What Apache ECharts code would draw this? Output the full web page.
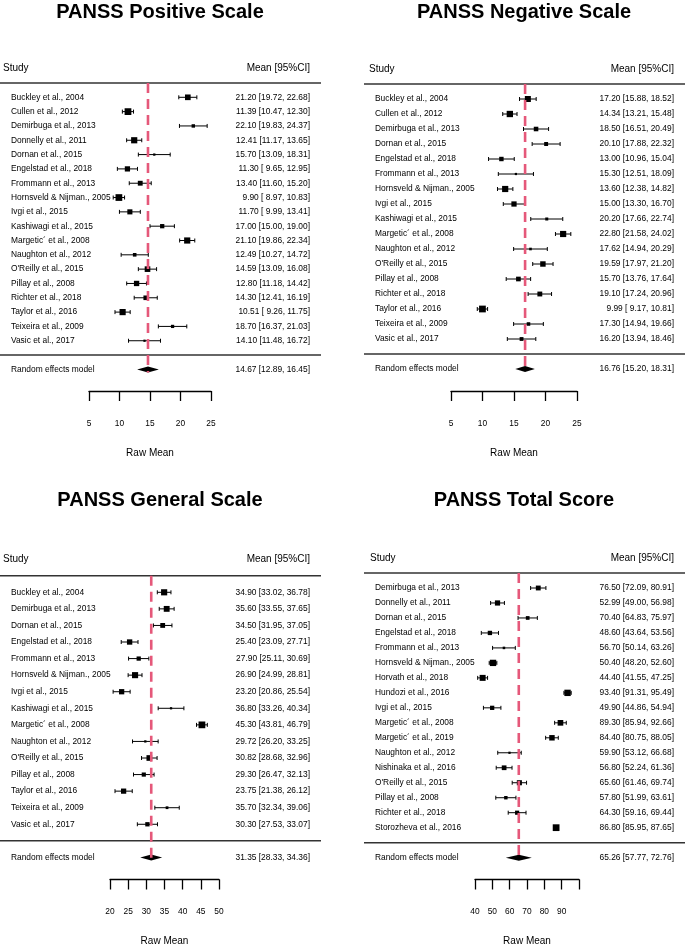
<!DOCTYPE html>
<html lang="en">
<head>
<meta charset="UTF-8">
<title>PANSS forest plots</title>
<script src="https://cdn.jsdelivr.net/npm/echarts@6/dist/echarts.min.js"></script>
<style>html,body{margin:0;padding:0;background:#fff;}</style>
</head>
<body>
<div id="main" style="width:685px;height:949px;"></div>
<script type="text/javascript">
// PANSS Positive Scale
var posStudies = ['Buckley et al., 2004', 'Cullen et al., 2012', 'Demirbuga et al., 2013', 'Donnelly et al., 2011', 'Dornan et al., 2015', 'Engelstad et al., 2018', 'Frommann et al., 2013', 'Hornsveld & Nijman., 2005', 'Ivgi et al., 2015', 'Kashiwagi et al., 2015', 'Margetic\u00b4 et al., 2008', 'Naughton et al., 2012', "O'Reilly et al., 2015", 'Pillay et al., 2008', 'Richter et al., 2018', 'Taylor et al., 2016', 'Teixeira et al., 2009', 'Vasic et al., 2017'];
var posMean  = [21.20, 11.39, 22.10, 12.41, 15.70, 11.30, 13.40, 9.90, 11.70, 17.00, 21.10, 12.49, 14.59, 12.80, 14.30, 10.51, 18.70, 14.10];
var posLower = [19.72, 10.47, 19.83, 11.17, 13.09, 9.65, 11.60, 8.97, 9.99, 15.00, 19.86, 10.27, 13.09, 11.18, 12.41, 9.26, 16.37, 11.48];
var posUpper = [22.68, 12.30, 24.37, 13.65, 18.31, 12.95, 15.20, 10.83, 13.41, 19.00, 22.34, 14.72, 16.08, 14.42, 16.19, 11.75, 21.03, 16.72];
var posPooled = [14.67, 12.89, 16.45];
var posTicks = ['5', '10', '15', '20', '25'];

// PANSS Negative Scale
var negStudies = ['Buckley et al., 2004', 'Cullen et al., 2012', 'Demirbuga et al., 2013', 'Dornan et al., 2015', 'Engelstad et al., 2018', 'Frommann et al., 2013', 'Hornsveld & Nijman., 2005', 'Ivgi et al., 2015', 'Kashiwagi et al., 2015', 'Margetic\u00b4 et al., 2008', 'Naughton et al., 2012', "O'Reilly et al., 2015", 'Pillay et al., 2008', 'Richter et al., 2018', 'Taylor et al., 2016', 'Teixeira et al., 2009', 'Vasic et al., 2017'];
var negMean  = [17.20, 14.34, 18.50, 20.10, 13.00, 15.30, 13.60, 15.00, 20.20, 22.80, 17.62, 19.59, 15.70, 19.10, 9.99, 17.30, 16.20];
var negLower = [15.88, 13.21, 16.51, 17.88, 10.96, 12.51, 12.38, 13.30, 17.66, 21.58, 14.94, 17.97, 13.76, 17.24, 9.17, 14.94, 13.94];
var negUpper = [18.52, 15.48, 20.49, 22.32, 15.04, 18.09, 14.82, 16.70, 22.74, 24.02, 20.29, 21.20, 17.64, 20.96, 10.81, 19.66, 18.46];
var negPooled = [16.76, 15.20, 18.31];
var negTicks = ['5', '10', '15', '20', '25'];

// PANSS General Scale
var genStudies = ['Buckley et al., 2004', 'Demirbuga et al., 2013', 'Dornan et al., 2015', 'Engelstad et al., 2018', 'Frommann et al., 2013', 'Hornsveld & Nijman., 2005', 'Ivgi et al., 2015', 'Kashiwagi et al., 2015', 'Margetic\u00b4 et al., 2008', 'Naughton et al., 2012', "O'Reilly et al., 2015", 'Pillay et al., 2008', 'Taylor et al., 2016', 'Teixeira et al., 2009', 'Vasic et al., 2017'];
var genMean  = [34.90, 35.60, 34.50, 25.40, 27.90, 26.90, 23.20, 36.80, 45.30, 29.72, 30.82, 29.30, 23.75, 35.70, 30.30];
var genLower = [33.02, 33.55, 31.95, 23.09, 25.11, 24.99, 20.86, 33.26, 43.81, 26.20, 28.68, 26.47, 21.38, 32.34, 27.53];
var genUpper = [36.78, 37.65, 37.05, 27.71, 30.69, 28.81, 25.54, 40.34, 46.79, 33.25, 32.96, 32.13, 26.12, 39.06, 33.07];
var genPooled = [31.35, 28.33, 34.36];
var genTicks = ['20', '25', '30', '35', '40', '45', '50'];

// PANSS Total Score
var totStudies = ['Demirbuga et al., 2013', 'Donnelly et al., 2011', 'Dornan et al., 2015', 'Engelstad et al., 2018', 'Frommann et al., 2013', 'Hornsveld & Nijman., 2005', 'Horvath et al., 2018', 'Hundozi et al., 2016', 'Ivgi et al., 2015', 'Margetic\u00b4 et al., 2008', 'Margetic\u00b4 et al., 2019', 'Naughton et al., 2012', 'Nishinaka et al., 2016', "O'Reilly et al., 2015", 'Pillay et al., 2008', 'Richter et al., 2018', 'Storozheva et al., 2016'];
var totMean  = [76.50, 52.99, 70.40, 48.60, 56.70, 50.40, 44.40, 93.40, 49.90, 89.30, 84.40, 59.90, 56.80, 65.60, 57.80, 64.30, 86.80];
var totLower = [72.09, 49.00, 64.83, 43.64, 50.14, 48.20, 41.55, 91.31, 44.86, 85.94, 80.75, 53.12, 52.24, 61.46, 51.99, 59.16, 85.95];
var totUpper = [80.91, 56.98, 75.97, 53.56, 63.26, 52.60, 47.25, 95.49, 54.94, 92.66, 88.05, 66.68, 61.36, 69.74, 63.61, 69.44, 87.65];
var totPooled = [65.26, 57.77, 72.76];
var totTicks = ['40', '50', '60', '70', '80', '90', ''];
var totMax = 100;

var FONT = "'Liberation Sans', Arial, Helvetica, sans-serif";

// layout of the four panels (pixels)
var panels = [
    { title: 'PANSS Positive Scale', studies: posStudies, mean: posMean, lo: posLower, hi: posUpper, pooled: posPooled,
      ticks: posTicks, min: 5, max: 25, step: 5, cx: 160, titleTop: 2,
      gridLeft: 89, gridRight: 211, row0: 97.3, rowH: 14.32, axisY: 391,
      studyX: 3, nameX: 11, valueX: 310, lineX0: 0, lineX1: 321 },
    { title: 'PANSS Negative Scale', studies: negStudies, mean: negMean, lo: negLower, hi: negUpper, pooled: negPooled,
      ticks: negTicks, min: 5, max: 25, step: 5, cx: 524, titleTop: 2,
      gridLeft: 451, gridRight: 577, row0: 99, rowH: 15, axisY: 391,
      studyX: 369, nameX: 375, valueX: 674, lineX0: 364, lineX1: 685 },
    { title: 'PANSS General Scale', studies: genStudies, mean: genMean, lo: genLower, hi: genUpper, pooled: genPooled,
      ticks: genTicks, min: 20, max: 50, step: 5, cx: 160, titleTop: 490.5,
      gridLeft: 110, gridRight: 219, row0: 592.3, rowH: 16.57, axisY: 879.5,
      studyX: 3, nameX: 11, valueX: 310, lineX0: 0, lineX1: 321 },
    { title: 'PANSS Total Score', studies: totStudies, mean: totMean, lo: totLower, hi: totUpper, pooled: totPooled,
      ticks: totTicks, min: 40, max: totMax, step: 10, cx: 524, titleTop: 490.5,
      gridLeft: 475, gridRight: 579, row0: 588, rowH: 14.98, axisY: 879.5,
      studyX: 370, nameX: 375, valueX: 674, lineX0: 364, lineX1: 685 }
];

function pad(v) {
    var s = v.toFixed(2);
    return v < 10 ? ' ' + s : s;
}
function ciText(m, l, h) {
    return m.toFixed(2) + ' [' + pad(l) + ', ' + pad(h) + ']';
}

// square sizes from random-effects weights (DerSimonian-Laird), scaled 0.5..1.5 like metafor
function boxSizes(mean, lo, hi) {
    var v = lo.map(function (l, i) { var se = (hi[i] - l) / 3.92; return se * se; });
    var w = v.map(function (x) { return 1 / x; });
    var sw = 0, sw2 = 0, swy = 0;
    w.forEach(function (x, i) { sw += x; sw2 += x * x; swy += x * mean[i]; });
    var yfe = swy / sw, q = 0;
    w.forEach(function (x, i) { q += x * (mean[i] - yfe) * (mean[i] - yfe); });
    var tau2 = Math.max(0, (q - (mean.length - 1)) / (sw - sw2 / sw));
    var re = v.map(function (x) { return 1 / (x + tau2); });
    var mn = Math.min.apply(null, re), mx = Math.max.apply(null, re);
    return re.map(function (x) { return ((x - mn) / (mx - mn) + 0.5) * 4.5; });
}

var textStyle = function (x, y, text, align, size) {
    return { type: 'text', style: { x: x, y: y, text: text, align: align, verticalAlign: 'middle',
        fill: '#000', font: (size || 8.4) + 'px ' + FONT } };
};

var grids = [], xAxes = [], yAxes = [], series = [], titles = [];

panels.forEach(function (p, k) {
    var n = p.studies.length;
    var top = p.row0 - 2.5 * p.rowH;
    var bottom = p.row0 + (n + 1.5) * p.rowH;
    grids.push({ left: p.gridLeft, width: p.gridRight - p.gridLeft, top: top, height: bottom - top });
    titles.push({ text: p.title, left: p.cx, top: p.titleTop, textAlign: 'center', padding: 0,
        textStyle: { fontSize: 20, fontWeight: 'bold', color: '#000', fontFamily: FONT } });
    xAxes.push({
        type: 'value', gridIndex: k, min: p.min, max: p.max, interval: p.step,
        position: 'bottom', offset: p.axisY - bottom,
        name: 'Raw Mean', nameLocation: 'middle', nameGap: 57,
        nameTextStyle: { fontSize: 10, color: '#000', fontFamily: FONT },
        axisLine: { show: true, onZero: false, lineStyle: { color: '#000', width: 1.3 } },
        axisTick: { show: true, length: 10, lineStyle: { color: '#000', width: 1.3 } },
        axisLabel: { margin: 28.5, fontSize: 8.4, color: '#000', fontFamily: FONT,
            formatter: function (val) { var i = Math.round((val - p.min) / p.step); return p.ticks[i] || ''; } },
        splitLine: { show: false }
    });
    yAxes.push({ type: 'value', gridIndex: k, inverse: true, min: -2.5, max: n + 1.5, show: false });

    var sizes = boxSizes(p.mean, p.lo, p.hi);
    var rows = p.studies.map(function (s, i) { return [p.mean[i], i, p.lo[i], p.hi[i], sizes[i]]; });

    // study rows
    series.push({
        type: 'custom', xAxisIndex: k, yAxisIndex: k, z: 2, silent: true,
        encode: { x: [0, 2, 3], y: 1 },
        data: rows,
        renderItem: function (params, api) {
            var i = params.dataIndex;
            var y = api.coord([p.min, api.value(1)])[1];
            var xm = api.coord([api.value(0), 0])[0];
            var xl = api.coord([api.value(2), 0])[0];
            var xh = api.coord([api.value(3), 0])[0];
            var s = api.value(4);
            var ls = { stroke: '#000', lineWidth: 1 };
            return { type: 'group', children: [
                { type: 'line', shape: { x1: xl, y1: y, x2: xh, y2: y }, style: ls },
                { type: 'line', shape: { x1: xl, y1: y - 2, x2: xl, y2: y + 2 }, style: ls },
                { type: 'line', shape: { x1: xh, y1: y - 2, x2: xh, y2: y + 2 }, style: ls },
                { type: 'rect', shape: { x: xm - s / 2, y: y - s / 2, width: s, height: s }, style: { fill: '#000' } },
                textStyle(p.nameX, y, p.studies[i], 'left'),
                textStyle(p.valueX, y, ciText(p.mean[i], p.lo[i], p.hi[i]), 'right')
            ] };
        }
    });

    // pooled estimate, header and separators
    series.push({
        type: 'custom', xAxisIndex: k, yAxisIndex: k, z: 2, silent: true,
        encode: { x: [0, 2, 3], y: 1 },
        data: [[p.pooled[0], n + 1, p.pooled[1], p.pooled[2]]],
        renderItem: function (params, api) {
            var y = api.coord([p.min, api.value(1)])[1];
            var yHead = api.coord([p.min, -1])[1];
            var yStudy = api.coord([p.min, -2])[1];
            var ySep = api.coord([p.min, n])[1];
            var xm = api.coord([api.value(0), 0])[0];
            var xl = api.coord([api.value(2), 0])[0];
            var xh = api.coord([api.value(3), 0])[0];
            var hs = { stroke: '#333', lineWidth: 1.5 };
            return { type: 'group', children: [
                { type: 'polygon', shape: { points: [[xl, y], [xm, y - 3], [xh, y], [xm, y + 3]] }, style: { fill: '#000' } },
                textStyle(p.nameX, y, 'Random effects model', 'left'),
                textStyle(p.valueX, y, ciText(p.pooled[0], p.pooled[1], p.pooled[2]), 'right'),
                textStyle(p.studyX, yStudy, 'Study', 'left', 10),
                textStyle(p.valueX, yStudy, 'Mean [95%CI]', 'right', 10),
                { type: 'line', shape: { x1: p.lineX0, y1: yHead, x2: p.lineX1, y2: yHead }, style: hs },
                { type: 'line', shape: { x1: p.lineX0, y1: ySep, x2: p.lineX1, y2: ySep }, style: hs }
            ] };
        }
    });

    // dashed reference line at the pooled mean
    series.push({
        type: 'custom', xAxisIndex: k, yAxisIndex: k, z: 5, silent: true,
        encode: { x: 0, y: 1 },
        data: [[p.pooled[0], -1]],
        renderItem: function (params, api) {
            var a = api.coord([api.value(0), -1]);
            var b = api.coord([api.value(0), n + 1]);
            return { type: 'line', shape: { x1: a[0], y1: a[1], x2: b[0], y2: b[1] + 3 },
                style: { stroke: '#E5587A', lineWidth: 2.6, lineDash: [10, 6] } };
        }
    });
});

var myChart = echarts.init(document.getElementById('main'));
myChart.setOption({
    animation: false,
    backgroundColor: '#fff',
    title: titles,
    grid: grids,
    xAxis: xAxes,
    yAxis: yAxes,
    series: series
});
</script>
</body>
</html>
